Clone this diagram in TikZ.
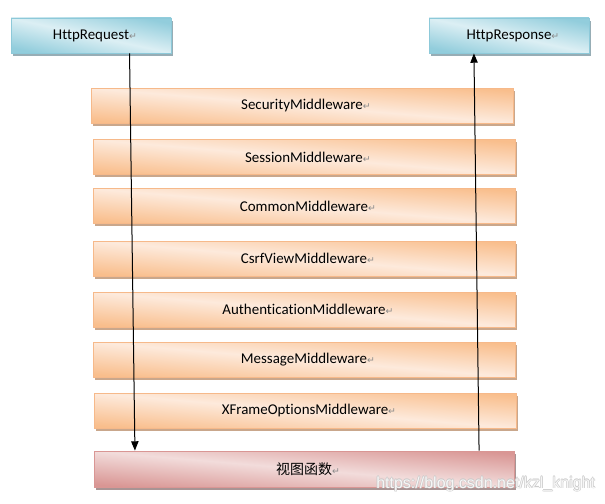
\documentclass[tikz,border=0pt]{standalone}
\usepackage{fontspec}
\setmainfont[Ligatures={NoCommon}]{Carlito}
\newfontfamily\cjkfont{Noto Sans CJK SC}
\newfontfamily\symfont{DejaVu Sans}
\newfontfamily\wmfont{Liberation Sans}
\usetikzlibrary{shadows,arrows.meta}
\definecolor{orD}{HTML}{F9BE8C}
\definecolor{orL}{HTML}{FDEADC}
\definecolor{orB}{HTML}{F6B98A}
\definecolor{orS}{HTML}{C9A78C}
\definecolor{blD}{HTML}{92CDDC}
\definecolor{blL}{HTML}{DCEFF4}
\definecolor{blB}{HTML}{8DC9D9}
\definecolor{blS}{HTML}{97ADB5}
\definecolor{pkD}{HTML}{D99694}
\definecolor{pkL}{HTML}{F2DCDB}
\definecolor{pkB}{HTML}{D99694}
\definecolor{pkS}{HTML}{A89494}
\definecolor{retgray}{HTML}{8A8A8A}
\definecolor{wmgray}{HTML}{C8C8C8}
\pgfdeclareverticalshading{orshade}{100bp}{color(0bp)=(orD); color(25bp)=(orD); color(50bp)=(orL); color(75bp)=(orD); color(100bp)=(orD)}
\pgfdeclareverticalshading{blshade}{100bp}{color(0bp)=(blD); color(25bp)=(blD); color(50bp)=(blL); color(75bp)=(blD); color(100bp)=(blD)}
\pgfdeclareverticalshading{pkshade}{100bp}{color(0bp)=(pkD); color(25bp)=(pkD); color(50bp)=(pkL); color(75bp)=(pkD); color(100bp)=(pkD)}
\newcommand{\retmark}{\rlap{\symfont\fontsize{7}{8}\selectfont\color{retgray}↵}}
\newcommand{\wmtext}{https://blog.csdn.net/kzl\_knight}
\tikzset{
  box/.style={rectangle, inner sep=0pt, font=\fontsize{11.2}{13}\selectfont, text=black, line width=0.6pt},
  orbox/.style={box, draw=orB, shading=orshade, shading angle=-4.74, minimum width=316.5pt, minimum height=26.25pt,
     drop shadow={shadow xshift=1.8pt, shadow yshift=-2.2pt, fill=orS, opacity=1}},
  blbox/.style={box, draw=blB, shading=blshade, shading angle=-12.3, minimum width=120pt, minimum height=26.25pt,
     drop shadow={shadow xshift=1.8pt, shadow yshift=-2.2pt, fill=blS, opacity=1}},
  pkbox/.style={box, draw=pkB, shading=pkshade, shading angle=-4.9, minimum width=315pt, minimum height=27pt,
     drop shadow={shadow xshift=1.8pt, shadow yshift=-2.2pt, fill=pkS, opacity=1}},
  flow/.style={draw=black, line width=0.75pt, -{Triangle[width=5.5pt,length=7pt]}},
  wm/.style={anchor=west, inner sep=0pt, font=\wmfont\fontsize{12}{14}\selectfont}
}
\begin{document}
\begin{tikzpicture}[x=0.75pt, y=-0.75pt]
\useasboundingbox (0,0) rectangle (605,503);
\node[blbox] (req)  at (91,35.5)  {HttpRequest\retmark};
\node[blbox] (resp) at (509,35.5) {HttpResponse\retmark};
\node[orbox] (m1) at (302,105.5) {SecurityMiddleware\retmark};
\node[orbox] (m2) at (304,157)   {SessionMiddleware\retmark};
\node[orbox] (m3) at (304,206)   {CommonMiddleware\retmark};
\node[orbox] (m4) at (304,258.5) {CsrfViewMiddleware\retmark};
\node[orbox] (m5) at (304,309.5) {AuthenticationMiddleware\retmark};
\node[orbox] (m6) at (304,359.5) {MessageMiddleware\retmark};
\node[orbox] (m7) at (305,410.5) {XFrameOptionsMiddleware\retmark};
\node[pkbox] (view) at (304,469) {{\cjkfont\fontsize{10.5}{12}\selectfont 视图函数}\retmark};
\draw[flow] ([xshift=28.9pt]req.south) -- ([xshift=-126.8pt]view.north);
\draw[flow] ([xshift=131.3pt]view.north) -- ([xshift=-26.3pt]resp.south);
\node[wm, text=wmgray] (wma) at (376.6,484) {\wmtext};
\node[wm, text=wmgray] (wmb) at (375.4,484) {\wmtext};
\node[wm, text=wmgray] (wmc) at (376,484.6) {\wmtext};
\node[wm, text=wmgray] (wmd) at (376,483.4) {\wmtext};
\node[wm, text=white, opacity=0.85] (wm) at (376,484) {\wmtext};
\end{tikzpicture}
\end{document}
